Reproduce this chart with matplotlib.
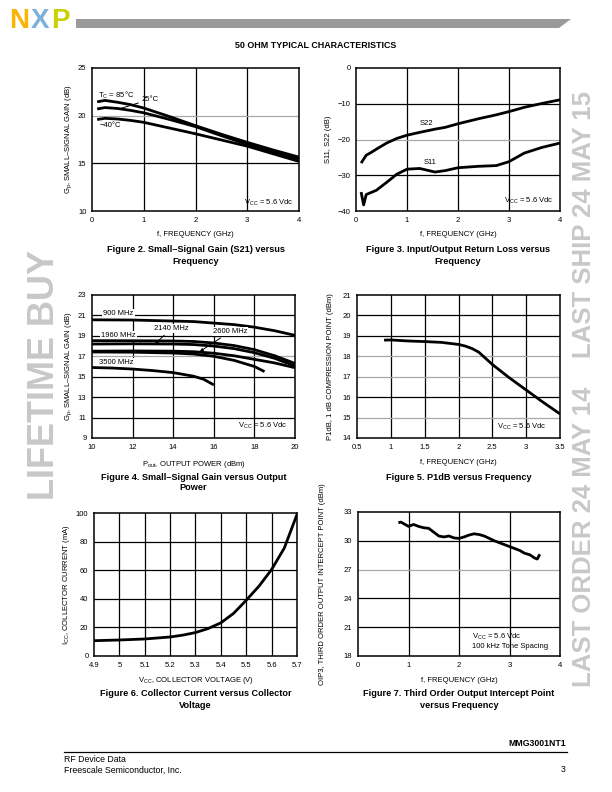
import matplotlib
matplotlib.use("Agg")
import matplotlib.pyplot as plt
from matplotlib.patches import Polygon

# ---------------- data ----------------
# Figure 2: small-signal gain vs frequency
f2_freq = [0.1, 0.25, 0.5, 0.75, 1.0, 1.5, 2.0, 2.5, 3.0, 3.5, 4.0]
f2_gain_85 = [21.45, 21.6, 21.4, 21.15, 20.8, 19.9, 18.95, 18.05, 17.2, 16.4, 15.65]
f2_gain_25 = [20.7, 20.85, 20.75, 20.55, 20.3, 19.6, 18.85, 17.9, 17.0, 16.2, 15.45]
f2_gain_m40 = [19.6, 19.72, 19.65, 19.5, 19.3, 18.7, 18.1, 17.45, 16.8, 16.0, 15.2]

# Figure 3: return loss vs frequency
f3_freq = [0.1, 0.15, 0.2, 0.3, 0.4, 0.6, 0.8, 1.0, 1.25, 1.55, 1.75, 2.0, 2.4, 2.75, 3.0, 3.3, 3.65, 4.0]
f3_s22 = [-26.6, -25.5, -24.4, -23.6, -22.7, -21.0, -19.7, -18.8, -18.0, -17.1, -16.6, -15.6, -14.2, -13.1, -12.2, -11.0, -9.9, -8.9]
f3_s11 = [-34.7, -38.3, -35.4, -34.8, -34.2, -32.0, -29.7, -28.3, -28.1, -29.1, -28.7, -27.9, -27.5, -27.3, -26.2, -23.8, -22.2, -21.0]

# Figure 4: gain vs output power
f4_pout = [10, 12, 14, 15, 16, 17, 18, 19, 20]
f4_g900 = [20.57, 20.55, 20.45, 20.4, 20.25, 20.1, 19.85, 19.5, 19.05]
f4_g1960 = [18.53, 18.52, 18.5, 18.45, 18.3, 18.05, 17.65, 17.05, 16.3]
f4_g2140 = [18.2, 18.22, 18.2, 18.15, 18.0, 17.75, 17.35, 16.8, 16.05]
f4_g2600 = [17.5, 17.52, 17.5, 17.45, 17.3, 17.05, 16.7, 16.35, 15.88]
f4_pout_b = [10, 12, 14, 15, 16, 17, 18, 18.5]
f4_g_b = [17.42, 17.4, 17.32, 17.22, 17.0, 16.6, 16.0, 15.5]
f4_pout_3500 = [10, 11, 12, 13, 14, 15, 15.5, 16]
f4_g3500 = [15.9, 15.85, 15.75, 15.6, 15.4, 15.05, 14.75, 14.2]

# Figure 5: P1dB vs frequency
f5_freq = [0.9, 1.0, 1.25, 1.5, 1.75, 2.0, 2.1, 2.2, 2.3, 2.5, 2.75, 3.0, 3.25, 3.5]
f5_p1db = [18.79, 18.8, 18.75, 18.72, 18.68, 18.58, 18.5, 18.38, 18.2, 17.6, 16.95, 16.35, 15.75, 15.18]

# Figure 6: collector current vs collector voltage
f6_vcc = [4.9, 5.0, 5.1, 5.2, 5.25, 5.3, 5.35, 5.4, 5.45, 5.5, 5.55, 5.6, 5.65, 5.7]
f6_icc = [10.7, 11.2, 11.9, 13.3, 14.6, 16.4, 19.2, 23.2, 29.8, 39.0, 48.8, 60.5, 75.5, 99.0]

# Figure 7: OIP3 vs frequency
f7_freq = [0.8, 0.85, 0.9, 1.0, 1.1, 1.2, 1.3, 1.4, 1.5, 1.6, 1.7, 1.8, 1.9, 2.0, 2.1, 2.2, 2.3,
           2.4, 2.5, 2.6, 2.7, 2.8, 2.9, 3.0, 3.1, 3.2, 3.3, 3.4, 3.5, 3.55, 3.6]
f7_oip3 = [31.88, 31.95, 31.8, 31.5, 31.7, 31.5, 31.36, 31.3, 30.9, 30.5, 30.4, 30.5, 30.3, 30.25, 30.4,
           30.6, 30.73, 30.65, 30.5, 30.25, 30.0, 29.8, 29.6, 29.4, 29.2, 29.0, 28.7, 28.55, 28.2, 28.1, 28.6]

# ---------------- style ----------------
W, H = 612, 792
plt.rcParams['font.family'] = ['Liberation Sans', 'DejaVu Sans']
plt.rcParams['mathtext.fontset'] = 'custom'
plt.rcParams['mathtext.rm'] = 'Liberation Sans'
EN = '\u2013'
MINUS = '\u2212'

fig = plt.figure(figsize=(W / 100, H / 100), dpi=100)
fig.patch.set_facecolor('white')


def fx(x):
    return x / W


def fy(y):
    return 1 - y / H


def ptext(x, y, s, **kw):
    kw.setdefault('ha', 'center')
    kw.setdefault('va', 'center')
    return fig.text(fx(x), fy(y), s, **kw)


LW_CURVE = 2.0
LW_GRID = 0.9
GRAY = '#a8a8a8'


def make_axes(l, t, r, b, xlim, ylim, xticks, yticks, xticklabels=None, yticklabels=None, gray_y=()):
    ax = fig.add_axes([fx(l), fy(b), fx(r - l), (b - t) / H])
    ax.set_xlim(*xlim)
    ax.set_ylim(*ylim)
    ax.set_xticks(xticks)
    ax.set_yticks(yticks)
    if xticklabels is not None:
        ax.set_xticklabels(xticklabels)
    if yticklabels is not None:
        ax.set_yticklabels(yticklabels)
    ax.tick_params(length=0, labelsize=5.5, pad=4)
    for sp in ax.spines.values():
        sp.set_linewidth(1.1)
        sp.set_color('black')
    for xv in xticks[1:-1]:
        ax.axvline(xv, color='black', lw=LW_GRID, zorder=1)
    for yv in yticks[1:-1]:
        ax.axhline(yv, color=(GRAY if yv in gray_y else 'black'), lw=LW_GRID, zorder=1)
    return ax


def curve(ax, x, y):
    ax.plot(x, y, color='black', lw=LW_CURVE, solid_joinstyle='round', solid_capstyle='butt', zorder=3)


SMALL = dict(fontsize=5.5)
CAP = dict(fontsize=6.6, fontweight='bold')
VCC = r'V$_\mathregular{CC}$ = 5.6 Vdc'

# ---------------- Figure 2 ----------------
ax2 = make_axes(92, 68, 299, 211, (0, 4), (10, 25), [0, 1, 2, 3, 4], [10, 15, 20, 25], gray_y=(20,))
curve(ax2, f2_freq, f2_gain_85)
curve(ax2, f2_freq, f2_gain_25)
curve(ax2, f2_freq, f2_gain_m40)
ax2.text(0.12, 22.15, r'T$_\mathregular{C}$ = 85°C', **SMALL, va='center')
ax2.annotate('25°C', xy=(0.55, 20.75), xytext=(0.95, 21.7), va='center', **SMALL,
             arrowprops=dict(arrowstyle='-', color='black', lw=0.7, shrinkA=0, shrinkB=0))
ax2.text(0.15, 19.0, MINUS + '40°C', **SMALL, va='center')
ax2.text(3.9, 10.9, VCC, ha='right', va='center', **SMALL)
ptext(195.5, 235, 'f, FREQUENCY (GHz)', **SMALL)
ptext(69, 139.5, r'G$_\mathregular{p}$, SMALL' + EN + 'SIGNAL GAIN (dB)', rotation=90, **SMALL)
ptext(195.5, 250, 'Figure 2. Small' + EN + 'Signal Gain (S21) versus', **CAP)
ptext(195.5, 261, 'Frequency', **CAP)

# ---------------- Figure 3 ----------------
ax3 = make_axes(356, 68, 560, 211, (0, 4), (-40, 0), [0, 1, 2, 3, 4], [-40, -30, -20, -10, 0], gray_y=(-20,))
curve(ax3, f3_freq, f3_s22)
curve(ax3, f3_freq, f3_s11)
ax3.text(1.39, -15.4, 'S22', **SMALL, ha='center', va='center')
ax3.text(1.45, -26.4, 'S11', **SMALL, ha='center', va='center')
ax3.text(3.87, -37.2, VCC, ha='right', va='center', **SMALL)
ptext(458, 235, 'f, FREQUENCY (GHz)', **SMALL)
ptext(329, 139.5, 'S11, S22 (dB)', rotation=90, **SMALL)
ptext(458, 250, 'Figure 3. Input/Output Return Loss versus', **CAP)
ptext(458, 261, 'Frequency', **CAP)

# ---------------- Figure 4 ----------------
ax4 = make_axes(92, 295, 295, 438, (10, 20), (9, 23), [10, 12, 14, 16, 18, 20],
                [9, 11, 13, 15, 17, 19, 21, 23], gray_y=(17,))
curve(ax4, f4_pout, f4_g900)
curve(ax4, f4_pout, f4_g1960)
curve(ax4, f4_pout, f4_g2140)
curve(ax4, f4_pout, f4_g2600)
curve(ax4, f4_pout_b, f4_g_b)
curve(ax4, f4_pout_3500, f4_g3500)
BOX = dict(boxstyle='square,pad=0.15', fc='white', ec='none')
ARROW = dict(arrowstyle='-|>,head_length=0.35,head_width=0.15', color='black', lw=0.7, shrinkA=2, shrinkB=0)
ax4.text(11.3, 21.15, '900 MHz', **SMALL, ha='center', va='center', bbox=BOX, zorder=2)
ax4.text(11.3, 19.05, '1960 MHz', **SMALL, ha='center', va='center', bbox=BOX, zorder=2)
ax4.annotate('2140 MHz', xy=(13.1, 18.2), xytext=(13.9, 19.7), ha='center', va='center', **SMALL,
             bbox=BOX, zorder=4, arrowprops=ARROW)
ax4.annotate('2600 MHz', xy=(15.3, 17.45), xytext=(16.8, 19.4), ha='center', va='center', **SMALL,
             bbox=BOX, zorder=4, arrowprops=ARROW)
ax4.text(11.2, 16.35, '3500 MHz', **SMALL, ha='center', va='center', bbox=BOX, zorder=2)
ax4.text(19.65, 10.2, VCC, ha='right', va='center', **SMALL)
ptext(193.5, 464, r'P$_\mathregular{out}$, OUTPUT POWER (dBm)', **SMALL)
ptext(69, 366.5, r'G$_\mathregular{p}$, SMALL' + EN + 'SIGNAL GAIN (dB)', rotation=90, **SMALL)
ptext(193.5, 477, 'Figure 4. Small' + EN + 'Signal Gain versus Output', **CAP)
ptext(193.5, 488, 'Power', **CAP)

# ---------------- Figure 5 ----------------
ax5 = make_axes(357, 295, 560, 438, (0.5, 3.5), (14, 21), [0.5, 1, 1.5, 2, 2.5, 3, 3.5],
                [14, 15, 16, 17, 18, 19, 20, 21],
                xticklabels=['0.5', '1', '1.5', '2', '2.5', '3', '3.5'], gray_y=(15, 17, 18))
curve(ax5, f5_freq, f5_p1db)
ax5.text(3.3, 14.55, VCC, ha='right', va='center', **SMALL)
ptext(458.5, 463, 'f, FREQUENCY (GHz)', **SMALL)
ptext(331, 366.5, 'P1dB, 1 dB COMPRESSION POINT (dBm)', rotation=90, **SMALL)
ptext(458.5, 478, 'Figure 5. P1dB versus Frequency', **CAP)

# ---------------- Figure 6 ----------------
ax6 = make_axes(94, 513, 297, 656, (4.9, 5.7), (0, 100),
                [4.9, 5.0, 5.1, 5.2, 5.3, 5.4, 5.5, 5.6, 5.7], [0, 20, 40, 60, 80, 100],
                xticklabels=['4.9', '5', '5.1', '5.2', '5.3', '5.4', '5.5', '5.6', '5.7'])
curve(ax6, f6_vcc, f6_icc)
ptext(195.5, 680, r'V$_\mathregular{CC}$, COLLECTOR VOLTAGE (V)', **SMALL)
ptext(66, 584.5, r'I$_\mathregular{CC}$, COLLECTOR CURRENT (mA)', rotation=90, **SMALL)
ptext(195.5, 693, 'Figure 6. Collector Current versus Collector', **CAP)
ptext(195.5, 705, 'Voltage', **CAP)

# ---------------- Figure 7 ----------------
ax7 = make_axes(358, 512, 560, 656, (0, 4), (18, 33), [0, 1, 2, 3, 4], [18, 21, 24, 27, 30, 33], gray_y=(27,))
curve(ax7, f7_freq, f7_oip3)
ax7.text(2.25, 19.6, VCC + '\n100 kHz Tone Spacing', ha='left', va='center', linespacing=1.3, **SMALL)
ptext(459, 680, 'f, FREQUENCY (GHz)', **SMALL)
ptext(323, 584, 'OIP3, THIRD ORDER OUTPUT INTERCEPT POINT (dBm)', rotation=90, **SMALL)
ptext(459, 693, 'Figure 7. Third Order Output Intercept Point', **CAP)
ptext(459, 705, 'versus Frequency', **CAP)

# ---------------- page furniture ----------------
ptext(316, 45, '50 OHM TYPICAL CHARACTERISTICS', fontsize=6.4, fontweight='bold')

# header bar
bar = Polygon([(fx(76), fy(19)), (fx(571), fy(19)), (fx(559), fy(28)), (fx(76), fy(28))],
              closed=True, transform=fig.transFigure, fc='#9a9a9a', ec='none')
fig.patches.append(bar)

# NXP logo (simple lettering)
ptext(19, 21, 'N', fontsize=20, fontweight='bold', color='#f9b500')
ptext(40, 21, 'X', fontsize=20, fontweight='bold', color='#7bb1db')
ptext(60, 21, 'P', fontsize=20, fontweight='bold', color='#c9d200')

# footer
ptext(566, 744, 'MMG3001NT1', ha='right', fontsize=6.3, fontweight='bold')
fig.add_artist(plt.Line2D([fx(64), fx(567)], [fy(752), fy(752)], transform=fig.transFigure,
                          color='black', lw=0.9))
ptext(64, 759, 'RF Device Data', ha='left', fontsize=6.3)
ptext(64, 770, 'Freescale Semiconductor, Inc.', ha='left', fontsize=6.3)
ptext(566, 770, '3', ha='right', fontsize=6.3)

# watermarks
ptext(45, 375, 'LIFETIME BUY', rotation=90, fontsize=26, fontweight='bold', color='#c8c8c8')
ptext(584, 389, 'LAST ORDER 24 MAY 14    LAST SHIP 24 MAY 15', rotation=90, fontsize=18.5,
      fontweight='bold', color='#c8c8c8')

fig.savefig('out.png', dpi=100)
